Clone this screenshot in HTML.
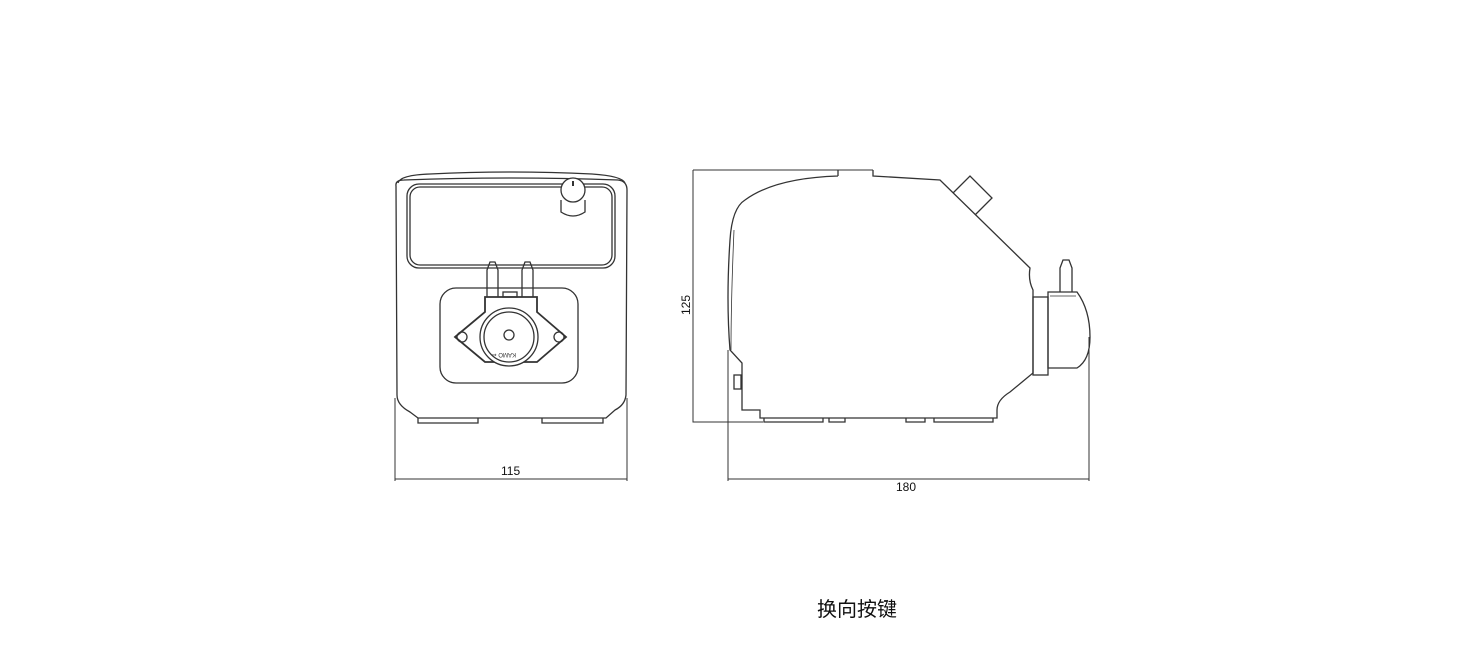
<!DOCTYPE html>
<html><head><meta charset="utf-8"><style>
html,body{margin:0;padding:0;background:#fff;width:1484px;height:656px;overflow:hidden}
svg{position:absolute;left:0;top:0}
.t{position:absolute;font-family:"Liberation Sans","Noto Sans CJK SC",sans-serif;color:#111}
</style></head><body>
<svg width="1484" height="656" viewBox="0 0 1484 656" fill="none" stroke="#333" stroke-width="1.3">
<!-- FRONT VIEW -->
<path d="M398 183 Q400 175 430 174 Q511 170 592 174 Q622 176 625 183"/>
<path d="M396 186 Q395 180 404 180 Q511 176 618 180 Q627 181 627 190 L626 395 Q625 405 615 410 L606 418 L418 418 L410 412 Q397 405 397 395 Z"/>
<path d="M418 418 L418 423 L478 423 L478 418 M542 418 L542 423 L603 423 L603 418"/>
<rect x="407" y="184" width="208" height="84" rx="12"/>
<rect x="410" y="187" width="202" height="78" rx="10"/>
<path d="M561 200 L561 212 Q573 220 585 212 L585 200"/>
<circle cx="573" cy="190" r="12" fill="#fff"/>
<path d="M573 181 L573 186" stroke-width="2"/>
<rect x="440" y="288" width="138" height="95" rx="16"/>
<path d="M487 297 L487 270 L490 262 L495 262 L498 270 L498 297 M522 297 L522 270 L525 262 L530 262 L533 270 L533 297"/>
<path d="M455 337 L485 312 L485 297 L537 297 L537 312 L566 337 L537 362 L485 362 Z" fill="#fff" stroke-width="1.8"/>
<circle cx="462" cy="337" r="5"/><circle cx="559" cy="337" r="5"/>
<rect x="503" y="292" width="14" height="5"/>
<circle cx="509" cy="337" r="29" fill="#fff"/>
<circle cx="509" cy="337" r="25"/>
<circle cx="509" cy="335" r="5"/>
<text x="494" y="357" font-size="6" fill="#333" stroke="none" font-family="Liberation Sans" transform="rotate(180 505 355)">KAMO ⇐</text>
<!-- dim 115 -->
<path d="M395 398 L395 481 M627 398 L627 481 M395 479 L627 479" stroke-width="1"/>
<!-- SIDE VIEW -->
<path d="M693 170 L873 170 M693 170 L693 422 L763 422" stroke-width="1"/>
<path d="M838 170 L838 176 M873 170 L873 176 L940 180 L1030 268 Q1028 280 1033 290 L1033 373 L1010 392 Q997 400 997 410 L997 418 L760 418 L760 410 L742 410 L742 363 L730 350 Q726 300 730 240 Q732 208 745 200 Q775 178 838 176"/>
<path d="M734 230 Q731 300 731 350" stroke-width="0.8"/>
<rect x="734" y="375" width="7" height="14"/>
<path d="M764 418 L764 422 L823 422 L823 418 M829 418 L829 422 L845 422 L845 418 M906 418 L906 422 L925 422 L925 418 M934 418 L934 422 L993 422 L993 418"/>
<path d="M953 193 L970 176 L992 198 L975 215"/>
<rect x="1033" y="297" width="15" height="78"/>
<path d="M1048 292 L1077 292 Q1090 310 1090 337 Q1090 360 1077 368 L1048 368 Z"/>
<path d="M1050 296 L1076 296" stroke-width="0.8"/>
<path d="M1060 292 L1060 268 L1063 260 L1069 260 L1072 268 L1072 292"/>
<path d="M728 350 L728 481 M1089 337 L1089 481 M728 479 L1089 479" stroke-width="1"/>
</svg>
<div class="t" style="left:501px;top:464px;font-size:12px;font-family:'Liberation Sans Narrow','Liberation Sans',sans-serif">115</div>
<div class="t" style="left:896px;top:480px;font-size:12px;font-family:'Liberation Sans Narrow','Liberation Sans',sans-serif">180</div>
<div class="t" style="left:676px;top:298px;font-size:12px;transform:rotate(-90deg);font-family:'Liberation Sans Narrow','Liberation Sans',sans-serif">125</div>
<div class="t" style="left:817px;top:593px;font-size:20px">换向按键</div>
</body></html>
